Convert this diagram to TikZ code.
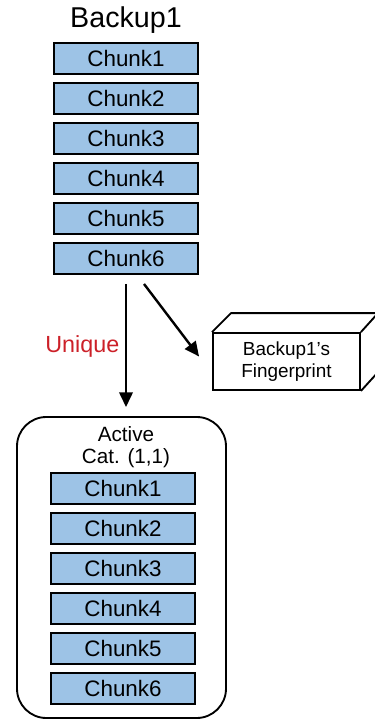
\documentclass[tikz,border=0pt]{standalone}
\usepackage{fontspec}
\setmainfont{Liberation Sans}
\usepackage{tikz}
\usetikzlibrary{arrows.meta}

\definecolor{chunkblue}{HTML}{9DC3E6}
\definecolor{uniquered}{RGB}{204,32,40}

\tikzset{
  chunk/.style={draw=black, fill=chunkblue, line width=1.4pt,
    minimum width=108pt, minimum height=23.25pt, inner sep=0pt,
    font=\fontsize{16.8}{18}\selectfont},
  bigarrow/.style={line width=1.8pt, -{Triangle[length=11pt,width=10pt]}}
}

\begin{document}
\begin{tikzpicture}[x=0.75pt,y=-0.75pt]
        \useasboundingbox (0,0) rectangle (375,719);
        \clip (0,0) rectangle (375,719);

        % Draw the backup and its chunks
        \node[font=\fontsize{21.5}{24}\selectfont] (backup) at (126,20) {Backup1};
        \foreach \i in {1,...,6} {
            \node[chunk] (c\i) at (126,{58.5+40*(\i-1)}) {Chunk\i};
        }

        % Draw the fingerprint box (front face, then top and side)
        \node[draw, line width=1.4pt, minimum width=110.25pt, minimum height=42.75pt,
              align=center, font=\fontsize{14.2}{16.5}\selectfont] (fp) at (286.5,361.5)
              {Backup1's\\Fingerprint};
        \draw[line width=1.4pt, line join=round] (fp.north west) -- ++(19,-19) -- ++(147,0) -- (fp.north east)
              ++(19,-19) -- ++(0,57) -- (fp.south east);

        % Draw the active category container
        \node[draw, line width=1.4pt, rounded corners=22pt, minimum width=156.75pt,
              minimum height=225.75pt] (cat) at (121.5,567.5) {};
        \node[align=center, font=\fontsize{15.5}{16}\selectfont] (catlabel) at (126,447)
              {Active\\Cat. (1,1)};
        \foreach \i in {1,...,6} {
            \node[chunk] (a\i) at (123,{488.5+40*(\i-1)}) {Chunk\i};
        }

        % Draw the arrows from the last chunk
        \draw[bigarrow, shorten <=6.75pt, shorten >=6.75pt] (c6.south) -- (c6.south |- cat.north);
        \node[text=uniquered, font=\fontsize{17.5}{19}\selectfont, anchor=east] (unique) at (124,346) {Unique};
        \draw[bigarrow] ([shift={(18,9)}]c6.south) -- ([shift={(-13,-5)}]fp.west);
    \end{tikzpicture}
\end{document}
